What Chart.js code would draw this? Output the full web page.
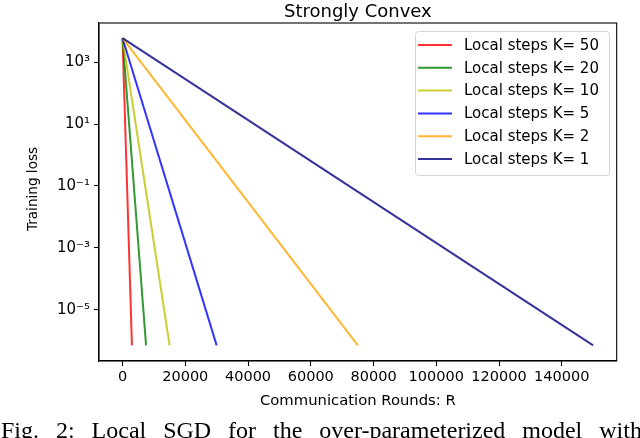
<!DOCTYPE html>
<html><head><meta charset="utf-8">
<script src="https://cdn.jsdelivr.net/npm/chart.js@4"></script>
<style>
html,body{margin:0;padding:0;background:#fff;width:640px;height:438px;overflow:hidden;}
#wrap{position:relative;width:640px;height:438px;overflow:hidden;}
#c{position:absolute;left:0;top:0;}
#cap{position:absolute;left:1px;top:418px;width:641px;display:flex;justify-content:space-between;font-family:'Liberation Serif','Times New Roman',serif;font-size:24px;line-height:24px;color:#000;white-space:nowrap;}
</style></head>
<body>
<div id="wrap">
<canvas id="c" width="640" height="438"></canvas>
<div id="cap"><span>Fig.</span><span>2:</span><span>Local</span><span>SGD</span><span>for</span><span>the</span><span>over-parameterized</span><span>model</span><span>with</span></div>
</div>
<script>
const localSteps = [50, 20, 10, 5, 2, 1];
const roundsStart = [0, 0, 0, 0, 0, 0];
const roundsEnd = [3000, 7500, 15000, 30000, 75000, 150000];
const lossStart = [6000, 6000, 6000, 6000, 6000, 6000];
const lossEnd = [7e-7, 7e-7, 7e-7, 7e-7, 7e-7, 7e-7];
const xTickValues = [0, 20000, 40000, 60000, 80000, 100000, 120000, 140000];
const yTickValues = [1e3, 1e1, 1e-1, 1e-3, 1e-5];
const yTickLabels = ['10\u00B3', '10\u00B9', '10\u207B\u00B9', '10\u207B\u00B3', '10\u207B\u2075'];
const seriesColors = ['rgba(255,0,0,0.8)', 'rgba(0,128,0,0.8)', 'rgba(191,191,0,0.8)', 'rgba(0,0,255,0.8)', 'rgba(255,165,0,0.8)', 'rgba(0,0,128,0.8)'];

const FONT = "'DejaVu Sans', sans-serif";

const datasets = localSteps.map((k, i) => ({
  label: 'Local steps K= ' + k,
  data: [{x: roundsStart[i], y: lossStart[i]}, {x: roundsEnd[i], y: lossEnd[i]}],
  borderColor: seriesColors[i],
  backgroundColor: seriesColors[i],
  borderWidth: 2,
  pointRadius: 0,
  fill: false,
  tension: 0,
  order: localSteps.length - 1 - i
}));

const decor = {
  id: 'decor',
  afterDraw(chart) {
    const ctx = chart.ctx, a = chart.chartArea;
    ctx.save();
    ctx.strokeStyle = '#000';
    ctx.lineWidth = 1.1;
    ctx.strokeRect(a.left, a.top, a.right - a.left, a.bottom - a.top);
    ctx.fillStyle = '#000';
    ctx.font = "14.8px " + FONT;
    ctx.textAlign = 'center';
    ctx.textBaseline = 'middle';
    ctx.fillText('Communication Rounds: R', (a.left + a.right) / 2, 401);
    ctx.save();
    ctx.font = "13.6px " + FONT;
    ctx.translate(33.5, 189);
    ctx.rotate(-Math.PI / 2);
    ctx.fillText('Training loss', 0, 0);
    ctx.restore();
    // legend
    const lx = 415, ly = 31, lw = 194, lh = 144;
    ctx.beginPath();
    ctx.roundRect(lx + 0.5, ly + 0.5, lw, lh, 3);
    ctx.fillStyle = 'rgba(255,255,255,0.8)';
    ctx.fill();
    ctx.strokeStyle = 'rgba(204,204,204,0.8)';
    ctx.lineWidth = 1;
    ctx.stroke();
    ctx.font = "15px " + FONT;
    ctx.textAlign = 'left';
    ctx.textBaseline = 'middle';
    chart.data.datasets.forEach((ds, i) => {
      const y = 45 + i * 22.8;
      ctx.beginPath();
      ctx.moveTo(418, y);
      ctx.lineTo(452, y);
      ctx.strokeStyle = ds.borderColor;
      ctx.lineWidth = 2;
      ctx.stroke();
      ctx.fillStyle = '#000';
      ctx.fillText(ds.label, 464, y + 1);
    });
    ctx.restore();
  }
};

new Chart(document.getElementById('c'), {
  type: 'line',
  data: { datasets },
  options: {
    responsive: false,
    animation: false,
    devicePixelRatio: 1,
    layout: { padding: { left: 0, right: 23.3, top: 0, bottom: 0 } },
    plugins: {
      legend: { display: false },
      tooltip: { enabled: false },
      title: {
        display: true,
        text: 'Strongly Convex',
        fullSize: false,
        color: '#000',
        font: { family: FONT, size: 18, weight: 'normal' },
        padding: { top: 1.4, bottom: 0 }
      }
    },
    scales: {
      x: {
        type: 'linear',
        min: -7500,
        max: 157500,
        afterBuildTicks: s => { s.ticks = xTickValues.map(v => ({ value: v })); },
        afterFit: s => { s.height = 77; },
        ticks: {
          color: '#000', font: { family: FONT, size: 14.5 }, padding: 3,
          maxRotation: 0, autoSkip: false,
          callback: v => String(v)
        },
        grid: { display: true, drawOnChartArea: false, drawTicks: true, tickLength: 5, tickColor: '#000', tickWidth: 1.1 },
        border: { display: true, color: '#000', width: 1.1 }
      },
      y: {
        type: 'logarithmic',
        min: Math.pow(10, -6.66),
        max: Math.pow(10, 4.27),
        afterBuildTicks: s => { s.ticks = yTickValues.map(v => ({ value: v })); },
        afterFit: s => { s.width = 99; },
        ticks: {
          color: '#000', font: { family: FONT, size: 15 }, padding: 4,
          autoSkip: false,
          callback: v => { const i = yTickValues.indexOf(v); return i >= 0 ? yTickLabels[i] : ''; }
        },
        grid: { display: true, drawOnChartArea: false, drawTicks: true, tickLength: 5, tickColor: '#000', tickWidth: 1.1 },
        border: { display: true, color: '#000', width: 1.1 }
      }
    }
  },
  plugins: [decor]
});
</script>
</body></html>
